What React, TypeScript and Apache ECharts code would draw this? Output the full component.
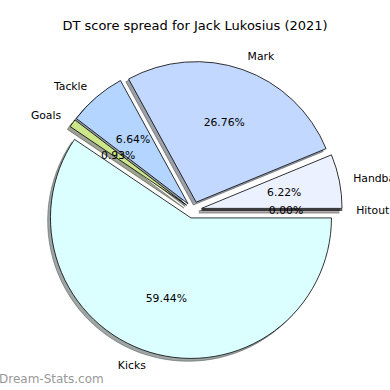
import React, { useEffect, useRef } from "react";
import * as echarts from "echarts";

const titleText = "DT score spread for Jack Lukosius (2021)";
const watermark = "Dream-Stats.com";
const categories = ["Kicks", "Goals", "Tackle", "Mark", "Handball", "Hitout"];
const percentages = [59.44, 0.93, 6.64, 26.76, 6.22, 0.0];
const sliceColors = ["#DBFFFF", "#CCE68A", "#B3D5FF", "#C3D8FF", "#EBF1FF", "#FFE0E0"];

const CX = 193.4;
const CY = 210;
const R = 140.5;
const EXPLODE = 8.3;
const SHADOW = 2.8;
const FONT = "DejaVu Sans";

function shadowColor(hex: string): string {
  const n = parseInt(hex.slice(1), 16);
  const r = Math.round(((n >> 16) & 255) * 0.3);
  const g = Math.round(((n >> 8) & 255) * 0.3);
  const b = Math.round((n & 255) * 0.3);
  return `rgba(${r},${g},${b},0.5)`;
}

export default function App() {
  const ref = useRef<HTMLDivElement>(null);
  useEffect(() => {
    if (!ref.current) return;
    const chart = echarts.init(ref.current, undefined, { renderer: "svg" });
    const common = {
      type: "pie" as const,
      startAngle: 0,
      clockwise: true,
      selectedMode: "multiple" as const,
      selectedOffset: EXPLODE,
      avoidLabelOverlap: false,
      emphasis: { disabled: true },
      animation: false,
    };
    const shadowData = categories.map((name, i) => ({
      name,
      value: percentages[i],
      selected: true,
      itemStyle: {
        color: shadowColor(sliceColors[i]),
        borderColor: shadowColor(sliceColors[i]),
        borderWidth: 1,
      },
    }));
    const mainData = categories.map((name, i) => ({
      name,
      value: percentages[i],
      selected: true,
      itemStyle: { color: sliceColors[i] },
    }));
    const pctData = categories.map((name, i) => ({
      name,
      value: percentages[i],
      selected: true,
    }));
    chart.setOption({
      animation: false,
      title: {
        text: titleText,
        left: "center",
        top: 19,
        padding: 0,
        textStyle: {
          fontFamily: FONT,
          fontSize: 13,
          fontWeight: "normal",
          color: "#000",
          lineHeight: 13,
        },
      },
      graphic: [
        {
          type: "text",
          left: -1,
          top: 373,
          style: {
            text: watermark,
            fontFamily: FONT,
            fontSize: 12,
            fill: "#999999",
          },
        },
      ],
      series: [
        {
          ...common,
          name: "shadow",
          silent: true,
          center: [CX - SHADOW, CY + SHADOW],
          radius: [0, R],
          label: { show: false },
          labelLine: { show: false },
          data: shadowData,
        },
        {
          ...common,
          name: "main",
          center: [CX, CY],
          radius: [0, R],
          itemStyle: { borderColor: "#000", borderWidth: 0.8 },
          select: { itemStyle: { borderColor: "#000", borderWidth: 0.8 } },
          label: {
            show: true,
            position: "outside",
            formatter: "{b}",
            fontFamily: FONT,
            fontSize: 10.8,
            color: "#000",
            distanceToLabelLine: 0,
          },
          labelLine: { show: false, length: R * 0.1, length2: 0 },
          data: mainData,
        },
        {
          ...common,
          name: "pct",
          silent: true,
          center: [CX, CY],
          radius: [0, 162.6],
          itemStyle: { color: "rgba(0,0,0,0)", borderWidth: 0 },
          select: { itemStyle: { color: "rgba(0,0,0,0)", borderWidth: 0 } },
          label: {
            show: true,
            position: "inside",
            formatter: (p: any) => `${Number(p.value).toFixed(2)}%`,
            fontFamily: FONT,
            fontSize: 10.8,
            color: "#000",
          },
          labelLine: { show: false },
          data: pctData,
        },
      ],
    });
    return () => chart.dispose();
  }, []);
  return (
    <div
      ref={ref}
      style={{ position: "absolute", left: 0, top: 0, width: 390, height: 390, background: "#fff" }}
    />
  );
}
